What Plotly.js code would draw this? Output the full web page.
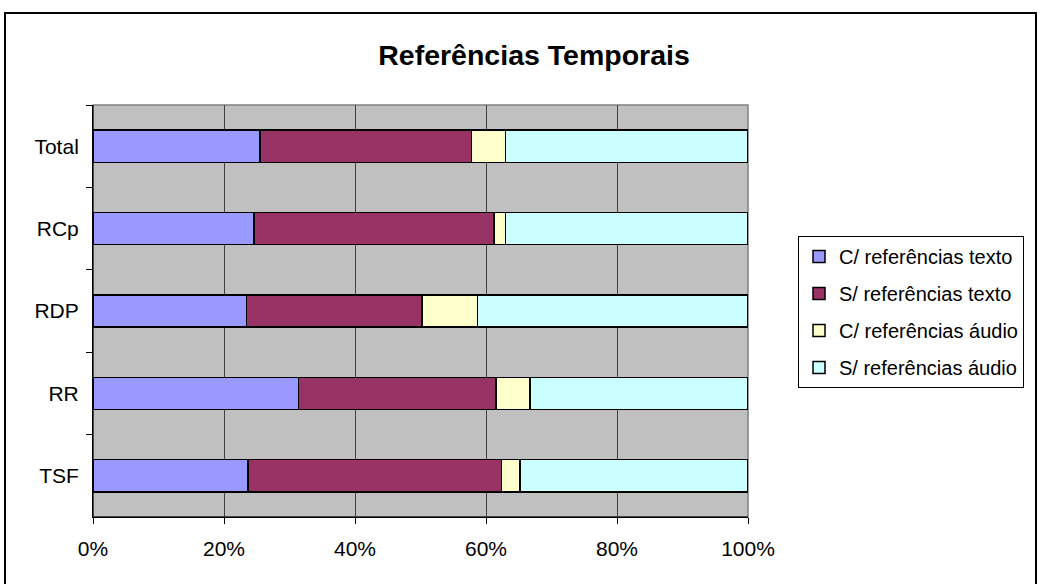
<!DOCTYPE html>
<html>
<head>
<meta charset="utf-8">
<script src="https://cdn.plot.ly/plotly-3.0.1.min.js"></script>
<style>html,body{margin:0;padding:0;background:#fff;}#chart{width:1040px;height:584px;}</style>
</head>
<body>
<div id="chart"></div>
<script>
var categories = ['Total', 'RCp', 'RDP', 'RR', 'TSF'];
var seriesNames = ['C/ referências texto', 'S/ referências texto', 'C/ referências áudio', 'S/ referências áudio'];
var comTexto   = [25.5, 24.6, 23.4, 31.4, 23.7];
var semTexto   = [32.3, 36.6, 26.8, 30.1, 38.7];
var comAudio   = [5.2, 1.8, 8.5, 5.2, 2.8];
var semAudio   = [37.0, 37.0, 41.3, 33.3, 34.8];
var xTickVals  = [0, 20, 40, 60, 80, 100];
var xTickText  = ['0%', '20%', '40%', '60%', '80%', '100%'];
var colors = ['#9999FF', '#993366', '#FFFFCC', '#CCFFFF'];

var FONT = '"Liberation Sans", Arial, sans-serif';
var values = [comTexto, semTexto, comAudio, semAudio];
var traces = values.map(function (v, i) {
  return {
    type: 'bar',
    orientation: 'h',
    name: seriesNames[i],
    y: categories,
    x: v,
    legendgroup: 'g' + i,
    marker: {color: colors[i], line: {color: '#000', width: 1.5}},
    hoverinfo: 'x+name'
  };
});

var layout = {
  width: 1040, height: 584,
  barmode: 'stack',
  bargap: 0.61,
  paper_bgcolor: '#ffffff',
  plot_bgcolor: '#C0C0C0',
  font: {family: FONT, size: 21, color: '#000'},
  margin: {l: 93, r: 292, t: 105, b: 67, pad: 0},
  title: {
    text: 'Referências Temporais',
    font: {family: FONT, size: 28.5, color: '#000', weight: 'bold'},
    x: 534 / 1040, xanchor: 'center', xref: 'container',
    y: 1 - 55 / 584, yanchor: 'middle', yref: 'container'
  },
  xaxis: {
    range: [0, 100],
    tickvals: xTickVals, ticktext: xTickText,
    tickfont: {family: FONT, size: 21, color: '#000'},
    showgrid: true, gridcolor: '#404040', gridwidth: 1,
    zeroline: false,
    showline: true, linecolor: '#000', linewidth: 1,
    ticks: 'outside', ticklen: 6, tickcolor: '#000', tickwidth: 1,
    ticklabelstandoff: 7,
    fixedrange: true
  },
  yaxis: {
    type: 'category',
    categoryorder: 'array', categoryarray: categories,
    autorange: 'reversed',
    tickfont: {family: FONT, size: 21, color: '#000'},
    showgrid: false, zeroline: false,
    showline: true, linecolor: '#000', linewidth: 1,
    ticks: 'outside', tickson: 'boundaries', ticklen: 6, tickcolor: '#000', tickwidth: 1,
    ticklabelstandoff: 9,
    fixedrange: true
  },
  legend: {
    x: (798 - 93) / 655, xanchor: 'left',
    y: (517 - 236) / 412, yanchor: 'top',
    bordercolor: '#000', borderwidth: 1, bgcolor: '#fff',
    traceorder: 'grouped', tracegroupgap: 8,
    font: {family: FONT, size: 20, color: '#000'},
    itemwidth: 30
  },
  shapes: [
    {type: 'rect', xref: 'paper', yref: 'paper', x0: 0, x1: 1, y0: 0, y1: 1,
     line: {color: '#808080', width: 1.5}, fillcolor: 'rgba(0,0,0,0)', layer: 'below'},
    {type: 'line', xref: 'paper', yref: 'paper', x0: 0, x1: 0, y0: 0, y1: 1,
     line: {color: '#000', width: 1}},
    {type: 'line', xref: 'paper', yref: 'paper', x0: 0, x1: 1, y0: 0, y1: 0,
     line: {color: '#000', width: 1}},
    {type: 'rect', xref: 'paper', yref: 'paper',
     x0: (5 - 93) / 655, x1: (1036 - 93) / 655,
     y0: (517 - 600) / 412, y1: (517 - 13) / 412,
     line: {color: '#000', width: 2}, fillcolor: 'rgba(0,0,0,0)'}
  ]
};

Plotly.newPlot('chart', traces, layout, {displayModeBar: false, staticPlot: true});
</script>
</body>
</html>
